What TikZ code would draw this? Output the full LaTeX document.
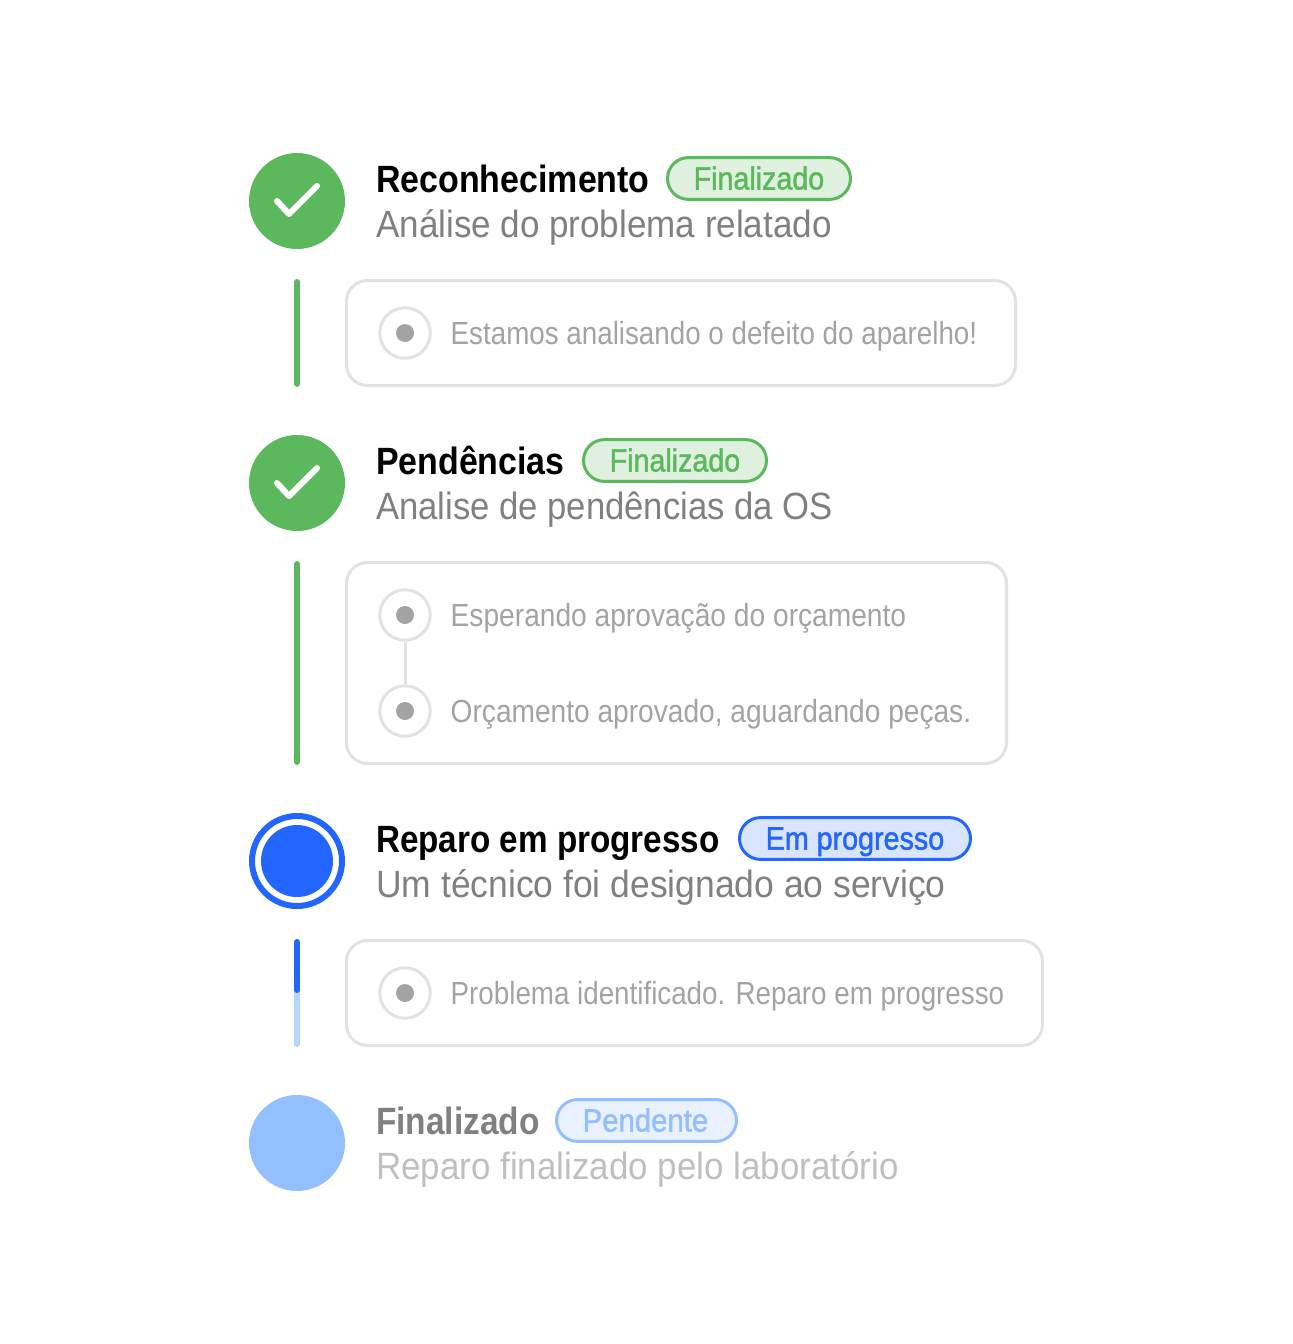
\documentclass[tikz,border=0pt]{standalone}
\usepackage{fontspec}
\usepackage{graphicx}
\setmainfont{Liberation Sans}
\newfontfamily\medfont[FakeBold=1.6]{Liberation Sans}
\definecolor{okgreen}{HTML}{5CB85C}
\definecolor{okfill}{HTML}{DFF0DF}
\definecolor{runblue}{HTML}{2266FF}
\definecolor{runfill}{HTML}{D9E5FF}
\definecolor{paleblue}{HTML}{94BFFF}
\definecolor{palefill}{HTML}{E9F1FF}
\definecolor{barpale}{HTML}{B5D6FF}
\definecolor{cardline}{HTML}{E2E2E2}
\definecolor{dotgrey}{HTML}{A3A3A3}
\definecolor{subgrey}{HTML}{808080}
\definecolor{palegrey}{HTML}{BFBFBF}
\newlength\fitlen
\newcommand{\fitto}[2]{\settowidth\fitlen{#2}\pgfmathsetmacro\fitr{#1pt/\fitlen}\scalebox{\fitr}[1]{#2}}
\tikzset{
  x=1pt,y=-1pt,
  titletext/.style={anchor=base west,inner sep=0pt,font=\fontsize{38}{40}\selectfont\bfseries,text=black},
  subtext/.style={anchor=base west,inner sep=0pt,font=\fontsize{38}{40}\selectfont,text=subgrey},
  smalltext/.style={anchor=base west,inner sep=0pt,font=\fontsize{32}{34}\selectfont,text=dotgrey},
  badgetext/.style={anchor=base west,inner sep=0pt,font=\medfont\fontsize{32}{34}\selectfont},
  badge/.style={draw,line width=3pt,rounded corners=20.9pt,minimum height=41.8pt,inner sep=0pt},
  okbadge/.style={badge,draw=okgreen,fill=okfill},
  runbadge/.style={badge,draw=runblue,fill=runfill},
  palebadge/.style={badge,draw=paleblue,fill=palefill},
  bigdisc/.style={circle,inner sep=0pt,minimum size=96pt},
  checkmark/.style={draw=white,line width=6pt,line cap=round,line join=round},
  card/.style={draw=cardline,line width=3pt,rounded corners=21pt,inner sep=0pt,fill=white},
  radio/.style={circle,draw=cardline,line width=3pt,inner sep=0pt,minimum size=50.5pt,fill=white},
  raddot/.style={circle,fill=dotgrey,inner sep=0pt,minimum size=18pt},
  rail/.style={line width=6pt,line cap=round},
}
\begin{document}
\begin{tikzpicture}
\useasboundingbox[fill=white] (0,0) rectangle (1293,1344);
% Step 1
\node[bigdisc,fill=okgreen] (c1) at (297,201) {};
\draw[checkmark] ([shift={(-20,0)}]c1.center) -- ([shift={(-8,13)}]c1.center) -- ([shift={(20,-15)}]c1.center);
\node[titletext] (t1) at (376,192) {\fitto{273.5}{Reconhecimento}};
\node[subtext] (s1) at (376,237) {\fitto{455.5}{Análise do problema relatado}};
\node[okbadge,minimum width=183pt] (b1) at (759,178.5) {};
\node[badgetext,text=okgreen] (bt1) at (693.5,189.5) {\fitto{130.5}{Finalizado}};
\coordinate (r1a) at (297,282);
\coordinate (r1b) at (297,384);
\draw[rail,okgreen] (r1a) -- (r1b);
\node[card,minimum width=669pt,minimum height=105pt] (k1) at (681,333) {};
\node[radio] (q1) at (405,333) {};
\node[raddot] (d1) at (q1.center) {};
\node[smalltext] (m1) at (450.5,344.5) {\fitto{526.5}{Estamos analisando o defeito do aparelho!}};
% Step 2
\node[bigdisc,fill=okgreen] (c2) at (297,483) {};
\draw[checkmark] ([shift={(-20,0)}]c2.center) -- ([shift={(-8,13)}]c2.center) -- ([shift={(20,-15)}]c2.center);
\node[titletext] (t2) at (376,474) {\fitto{188.5}{Pendências}};
\node[subtext] (s2) at (376,519) {\fitto{456.5}{Analise de pendências da OS}};
\node[okbadge,minimum width=183pt] (b2) at (675,460.5) {};
\node[badgetext,text=okgreen] (bt2) at (609.5,471.5) {\fitto{130.5}{Finalizado}};
\coordinate (r2a) at (297,564);
\coordinate (r2b) at (297,762);
\draw[rail,okgreen] (r2a) -- (r2b);
\node[card,minimum width=660pt,minimum height=201pt] (k2) at (676.5,663) {};
\node[radio] (q2) at (405,615) {};
\node[radio] (q3) at (405,711) {};
\draw[cardline,line width=3pt] (q2) -- (q3);
\node[raddot] (d2) at (q2.center) {};
\node[raddot] (d3) at (q3.center) {};
\node[smalltext] (m2) at (450.5,626.5) {\fitto{455.5}{Esperando aprovação do orçamento}};
\node[smalltext] (m3) at (450.5,722.5) {\fitto{520.5}{Orçamento aprovado, aguardando peças.}};
% Step 3
\node[bigdisc,draw=runblue,line width=6pt,minimum size=90pt] (c3) at (297,861) {};
\node[circle,fill=runblue,inner sep=0pt,minimum size=72pt] (c3i) at (c3.center) {};
\node[titletext] (t3) at (376,852) {\fitto{343.5}{Reparo em progresso}};
\node[subtext] (s3) at (376,897) {\fitto{569.5}{Um técnico foi designado ao serviço}};
\node[runbadge,minimum width=231pt] (b3) at (855,838.5) {};
\node[badgetext,text=runblue] (bt3) at (765.5,849.5) {\fitto{178.5}{Em progresso}};
\coordinate (r3a) at (297,942);
\coordinate (r3m) at (297,990);
\coordinate (r3b) at (297,1044);
\draw[rail,barpale] (r3m) -- (r3b);
\draw[rail,runblue] (r3a) -- (r3m);
\node[card,minimum width=696pt,minimum height=105pt] (k3) at (694.5,993) {};
\node[radio] (q4) at (405,993) {};
\node[raddot] (d4) at (q4.center) {};
\node[smalltext] (m4) at (450.5,1004.5) {\fitto{553.5}{Problema identificado. Reparo em progresso}};
% Step 4
\node[bigdisc,fill=paleblue] (c4) at (297,1143) {};
\node[titletext,text=subgrey] (t4) at (376,1134) {\fitto{163.5}{Finalizado}};
\node[subtext,text=palegrey] (s4) at (376,1179) {\fitto{522.5}{Reparo finalizado pelo laboratório}};
\node[palebadge,minimum width=180pt] (b4) at (646.5,1120.5) {};
\node[badgetext,text=paleblue] (bt4) at (582.5,1131.5) {\fitto{125.5}{Pendente}};
\end{tikzpicture}
\end{document}
